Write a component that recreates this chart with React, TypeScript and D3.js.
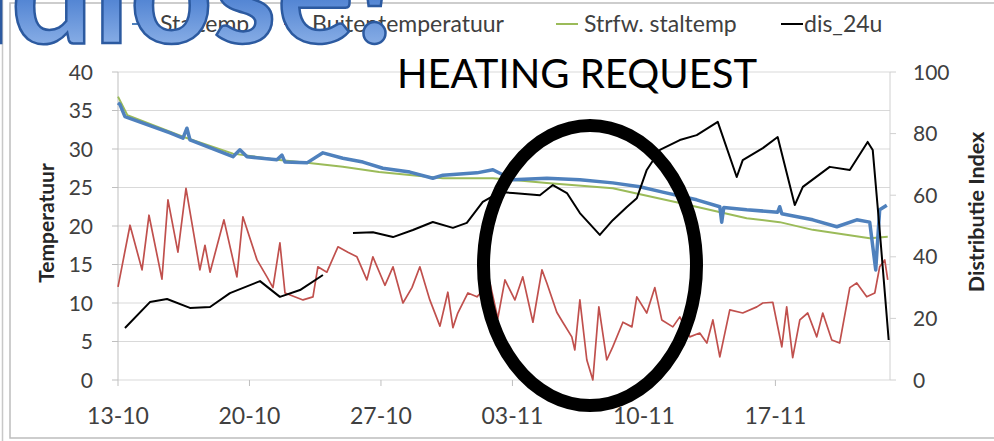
import React from 'react'
import * as d3 from 'd3'

// days after 13-10
const tickDays = [0, 7, 14, 21, 28, 35]
const tickLabels = ['13-10', '20-10', '27-10', '03-11', '10-11', '17-11']
const leftTicks = [0, 5, 10, 15, 20, 25, 30, 35, 40]
const rightTicks = [0, 20, 40, 60, 80, 100]

const stalDays = [0, 0.1, 0.37, 2.77, 3.46, 3.67, 3.83, 6.12, 6.49, 6.87, 8.46, 8.73, 8.89, 10.06, 10.91, 11.97, 13.04, 14.1, 15.54, 16.76, 17.3, 19.11, 19.96, 21.02, 22.83, 24.59, 26.34, 27.78, 29.0, 30.81, 32.04, 32.14, 32.25, 33.47, 35.12, 35.23, 35.34, 36.99, 38.27, 39.33, 40.02, 40.34, 40.55, 40.93]
const stalTemp = [36.0, 35.8, 34.2, 32.1, 31.4, 32.7, 31.2, 29.0, 29.9, 29.0, 28.6, 29.2, 28.3, 28.2, 29.5, 28.8, 28.3, 27.5, 27.0, 26.2, 26.6, 26.9, 27.3, 26.0, 26.2, 26.0, 25.6, 25.1, 24.4, 23.4, 22.5, 20.5, 22.4, 22.1, 21.8, 22.5, 21.6, 20.8, 19.9, 20.8, 20.5, 14.3, 22.1, 22.7]

const buitenDays = [0, 0.64, 1.28, 1.65, 2.34, 2.66, 3.19, 3.62, 4.36, 4.63, 4.9, 5.64, 6.33, 6.65, 7.4, 7.93, 8.25, 8.62, 8.89, 9.85, 10.38, 10.64, 11.12, 11.71, 12.24, 12.72, 13.25, 13.57, 14.21, 14.64, 15.17, 15.65, 16.07, 16.6, 17.14, 17.56, 17.83, 18.09, 18.63, 19.11, 19.8, 20.22, 20.6, 21.13, 21.55, 22.09, 22.57, 22.83, 23.36, 23.68, 24.16, 24.32, 24.59, 24.96, 25.28, 25.6, 26.02, 26.34, 26.88, 27.36, 27.62, 28.15, 28.58, 28.95, 29.54, 29.91, 30.44, 30.97, 31.35, 31.67, 32.04, 32.57, 33.26, 34.01, 34.33, 34.86, 35.34, 35.6, 35.92, 36.3, 36.72, 37.2, 37.52, 38.0, 38.42, 38.96, 39.33, 39.86, 40.29, 40.55, 40.82, 40.98]
const buitenTemp = [12.1, 20.1, 14.3, 21.4, 13.1, 23.4, 16.6, 24.9, 14.3, 17.5, 14.0, 20.8, 13.4, 21.2, 15.6, 13.4, 12.0, 17.8, 11.3, 10.4, 10.8, 14.7, 14.0, 17.3, 16.6, 16.0, 13.0, 16.0, 12.3, 14.7, 10.0, 12.0, 14.7, 10.4, 7.0, 11.4, 6.8, 8.7, 11.3, 10.8, 12.6, 8.0, 13.0, 10.4, 13.4, 7.5, 14.3, 12.6, 8.8, 7.5, 5.6, 3.9, 10.4, 2.6, 0.0, 9.5, 2.6, 4.3, 7.5, 6.9, 10.8, 8.7, 12.0, 7.8, 6.9, 8.2, 5.6, 6.1, 4.8, 7.8, 3.0, 9.1, 8.7, 9.5, 10.0, 10.1, 4.3, 9.5, 2.9, 7.8, 8.7, 5.6, 8.7, 5.2, 4.8, 12.0, 12.6, 10.8, 11.3, 14.7, 15.6, 13.0]

const strfwDays = [0, 0.5, 3.46, 6.12, 8.46, 10.06, 11.97, 13.9, 17.3, 19.96, 22.83, 26.34, 29.91, 33.47, 35.23, 36.99, 40.02, 40.98]
const strfwTemp = [36.8, 34.4, 31.6, 29.4, 28.6, 28.2, 27.7, 27.0, 26.2, 26.2, 25.6, 24.9, 23.0, 21.0, 20.5, 19.5, 18.4, 18.6]

// null = gap in the record
const disDays = [0.37, 1.7, 2.61, 3.83, 4.9, 5.96, 7.56, 8.62, 9.69, 10.91, 11.7, 12.51, 13.57, 14.64, 15.7, 16.76, 17.83, 18.57, 19.42, 20.33, 21.02, 22.46, 23.15, 23.9, 24.59, 25.65, 26.34, 27.09, 27.62, 28.15, 28.85, 29.91, 30.81, 31.93, 32.94, 33.26, 34.33, 35.12, 36.03, 36.46, 37.89, 38.96, 39.91, 40.18, 40.55, 41.03]
const disIndex = [16.9, 25.3, 26.3, 23.4, 23.7, 28.2, 32.1, 27.0, 29.2, 34.1, null, 47.7, 48.0, 46.4, 48.7, 51.3, 49.4, 51.0, 57.8, 61.0, 60.7, 60.0, 63.3, 60.7, 54.2, 47.1, 51.9, 56.2, 59.0, 68.2, 74.7, 77.9, 79.5, 83.8, 65.9, 71.4, 75.3, 78.9, 56.8, 62.7, 69.2, 68.2, 77.3, 74.7, 48.7, 13.0]

const font = 'Lato, "Open Sans", sans-serif'

export default function App() {
  const W = 994, H = 441
  const x = d3.scaleLinear().domain([0, 41.1]).range([118, 890])
  const yL = d3.scaleLinear().domain([0, 40]).range([380, 72])
  const yR = d3.scaleLinear().domain([0, 100]).range([380, 72])

  const zip = (xs: number[], ys: (number | null)[]) => xs.map((d, i) => ({ d, v: ys[i] }))
  const lineL = d3.line<{ d: number; v: number | null }>()
    .defined(p => p.v !== null)
    .x(p => x(p.d)).y(p => yL(p.v as number))
  const lineR = d3.line<{ d: number; v: number | null }>()
    .defined(p => p.v !== null)
    .x(p => x(p.d)).y(p => yR(p.v as number))

  const legend = [
    { label: 'Staltemp', color: '#4f81bd', x1: 132, tx: 160 },
    { label: 'Buitentemperatuur', color: '#c0504d', x1: 284, tx: 312 },
    { label: 'Strfw. staltemp', color: '#9bbb59', x1: 556, tx: 584 },
    { label: 'dis_24u', color: '#000', x1: 781, tx: 804 },
  ]

  return (
    <svg width={W} height={H} style={{ position: 'absolute', left: 0, top: 0, background: '#fff' }} fontFamily={font}>
      <defs>
        <linearGradient id="bigfill" x1="0" y1="0" x2="0" y2="1">
          <stop offset="0" stopColor="#1f4fa6" />
          <stop offset="0.55" stopColor="#4f82d2" />
          <stop offset="1" stopColor="#a9c7f1" />
        </linearGradient>
      </defs>
      <rect x={10} y={3} width={990} height={435} fill="none" stroke="#bdbdbd" strokeWidth={1.5} />
      <line x1={2.5} y1={0} x2={2.5} y2={441} stroke="#c8c8c8" strokeWidth={1.5} />

      {/* grid */}
      {leftTicks.map(t => (
        <line key={t} x1={118} x2={890} y1={yL(t)} y2={yL(t)} stroke="#d9d9d9" strokeWidth={1.2} />
      ))}
      <line x1={118} x2={118} y1={72} y2={380} stroke="#bfbfbf" />
      <line x1={890} x2={890} y1={72} y2={380} stroke="#d0d0d0" />
      {leftTicks.map(t => (
        <line key={'lt' + t} x1={112} x2={118} y1={yL(t)} y2={yL(t)} stroke="#bfbfbf" />
      ))}
      {rightTicks.map(t => (
        <line key={'rt' + t} x1={890} x2={896} y1={yR(t)} y2={yR(t)} stroke="#d0d0d0" />
      ))}
      {tickDays.map(t => (
        <line key={'xt' + t} x1={x(t)} x2={x(t)} y1={380} y2={386} stroke="#bfbfbf" />
      ))}

      {/* tick labels */}
      {leftTicks.map(t => (
        <text key={'ll' + t} x={93} y={yL(t)} dy="0.36em" textAnchor="end" fontSize={21} fill="#404040">{t}</text>
      ))}
      {rightTicks.map(t => (
        <text key={'rl' + t} x={913} y={yR(t)} dy="0.36em" textAnchor="start" fontSize={21} fill="#404040">{t}</text>
      ))}
      {tickDays.map((t, i) => (
        <text key={'xl' + t} x={x(t)} y={424} textAnchor="middle" fontSize={23} fill="#404040">{tickLabels[i]}</text>
      ))}
      <text transform="translate(54,223) rotate(-90)" textAnchor="middle" fontSize={21} fontWeight="bold" fill="#262626">Temperatuur</text>
      <text transform="translate(984,212) rotate(-90)" textAnchor="middle" fontSize={21.5} fontWeight="bold" fill="#262626">Distributie Index</text>

      {/* series */}
      <path d={lineL(zip(buitenDays, buitenTemp)) || ''} fill="none" stroke="#c0504d" strokeWidth={1.7} strokeLinejoin="round" />
      <path d={lineL(zip(strfwDays, strfwTemp)) || ''} fill="none" stroke="#9bbb59" strokeWidth={2} strokeLinejoin="round" />
      <path d={lineL(zip(stalDays, stalTemp)) || ''} fill="none" stroke="#4f81bd" strokeWidth={3.5} strokeLinejoin="round" />
      <path d={lineR(zip(disDays, disIndex)) || ''} fill="none" stroke="#000" strokeWidth={2} strokeLinejoin="round" />

      {/* legend */}
      {legend.map(l => (
        <g key={l.label}>
          <line x1={l.x1} x2={l.x1 + 22} y1={24} y2={24} stroke={l.color} strokeWidth={2} />
          <text x={l.tx} y={32} fontSize={23} fill="#404040">{l.label}</text>
        </g>
      ))}

      {/* annotations */}
      <text x={395} y={43} textAnchor="end" fontSize={145} fontWeight="bold" fill="url(#bigfill)" stroke="#2c5aa0" strokeWidth={2.5}>Coccidiose!</text>
      <text x={577} y={88} textAnchor="middle" fontSize={40} fill="#000">HEATING REQUEST</text>
      <ellipse cx={590} cy={265.5} rx={106.5} ry={140} fill="none" stroke="#000" strokeWidth={13} />
    </svg>
  )
}
